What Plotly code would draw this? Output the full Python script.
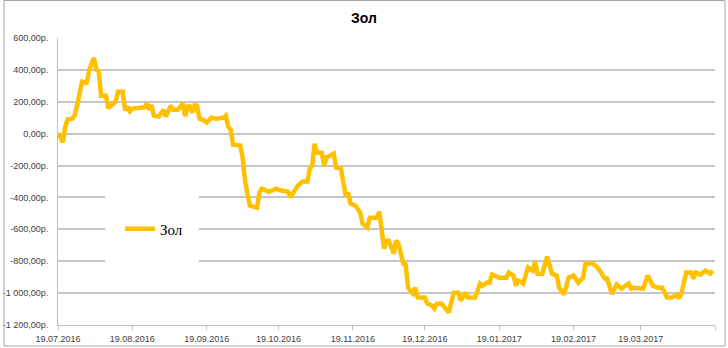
import plotly.graph_objects as go

# ---- data ----
dates = [
    "2016-07-19", "2016-07-20", "2016-07-21", "2016-07-22", "2016-07-23", "2016-07-25", "2016-07-26",
    "2016-07-27", "2016-07-28", "2016-07-29", "2016-07-31", "2016-08-01", "2016-08-03", "2016-08-04",
    "2016-08-05", "2016-08-06", "2016-08-08", "2016-08-09", "2016-08-11", "2016-08-12", "2016-08-13",
    "2016-08-15", "2016-08-16", "2016-08-17", "2016-08-18", "2016-08-19", "2016-08-22", "2016-08-24",
    "2016-08-25", "2016-08-26", "2016-08-27", "2016-08-28", "2016-08-30", "2016-09-01", "2016-09-02",
    "2016-09-04", "2016-09-05", "2016-09-07", "2016-09-09", "2016-09-10", "2016-09-11", "2016-09-12",
    "2016-09-13", "2016-09-14", "2016-09-15", "2016-09-16", "2016-09-18", "2016-09-19", "2016-09-21",
    "2016-09-23", "2016-09-26", "2016-09-27", "2016-09-28", "2016-09-29", "2016-09-30", "2016-10-03",
    "2016-10-04", "2016-10-05", "2016-10-07", "2016-10-09", "2016-10-10", "2016-10-11", "2016-10-12",
    "2016-10-15", "2016-10-18", "2016-10-20", "2016-10-23", "2016-10-24", "2016-10-27", "2016-10-29",
    "2016-10-31", "2016-11-01", "2016-11-02", "2016-11-03", "2016-11-04", "2016-11-06", "2016-11-07",
    "2016-11-08", "2016-11-11", "2016-11-12", "2016-11-14", "2016-11-15", "2016-11-16", "2016-11-17",
    "2016-11-18", "2016-11-20", "2016-11-22", "2016-11-23", "2016-11-25", "2016-11-26", "2016-11-29",
    "2016-11-30", "2016-12-01", "2016-12-02", "2016-12-03", "2016-12-04", "2016-12-06", "2016-12-07",
    "2016-12-08", "2016-12-10", "2016-12-11", "2016-12-12", "2016-12-14", "2016-12-15", "2016-12-16",
    "2016-12-19", "2016-12-20", "2016-12-22", "2016-12-23", "2016-12-24", "2016-12-26", "2016-12-29",
    "2016-12-31", "2017-01-02", "2017-01-03", "2017-01-05", "2017-01-06", "2017-01-09", "2017-01-11",
    "2017-01-12", "2017-01-14", "2017-01-15", "2017-01-16", "2017-01-19", "2017-01-22", "2017-01-23",
    "2017-01-25", "2017-01-26", "2017-01-27", "2017-01-29", "2017-01-31", "2017-02-02", "2017-02-03",
    "2017-02-04", "2017-02-06", "2017-02-08", "2017-02-10", "2017-02-12", "2017-02-13", "2017-02-15",
    "2017-02-17", "2017-02-19", "2017-02-21", "2017-02-23", "2017-02-24", "2017-02-27", "2017-03-01",
    "2017-03-02", "2017-03-04", "2017-03-05", "2017-03-07", "2017-03-09", "2017-03-11", "2017-03-14",
    "2017-03-15", "2017-03-16", "2017-03-20", "2017-03-22", "2017-03-24", "2017-03-26", "2017-03-28",
    "2017-03-30", "2017-04-01", "2017-04-03", "2017-04-04", "2017-04-05", "2017-04-07", "2017-04-09",
    "2017-04-10", "2017-04-11", "2017-04-13", "2017-04-15", "2017-04-17", "2017-04-18",
]
values = [
    0, -20, -55, 40, 90, 94, 115,
    200, 250, 326, 320, 400, 475, 400,
    390, 238, 238, 160, 190, 200, 263,
    263, 145, 170, 140, 157, 163, 165,
    188, 150, 180, 113, 107, 150, 107,
    175, 150, 150, 190, 110, 170, 170,
    132, 178, 175, 94, 82, 70, 100,
    94, 100, 113, 44, 25, -69, -75,
    -150, -295, -451, -464, -464, -370, -345,
    -365, -345, -357, -365, -400, -326, -300,
    -300, -220, -200, -63, -119, -119, -200,
    -150, -125, -213, -220, -307, -389, -370,
    -439, -451, -495, -564, -589, -527, -527,
    -489, -589, -721, -671, -671, -752, -671,
    -690, -815, -821, -966, -1003, -966, -1028,
    -1028, -1066, -1078, -1097, -1066, -1066, -1122,
    -997, -997, -1047, -997, -1028, -1028, -940,
    -953, -934, -934, -884, -903, -903, -871,
    -890, -953, -922, -940, -840, -859, -803,
    -878, -878, -771, -878, -890, -966, -1009,
    -903, -890, -934, -903, -815, -815, -840,
    -859, -909, -909, -1005, -945, -972, -940,
    -972, -966, -972, -890, -953, -966, -966,
    -1028, -1028, -1009, -1034, -1003, -871, -871,
    -909, -871, -884, -859, -878, -859,
]
series_name = "Зол"
chart_title = "Зол"

y_tick_values = [-1200, -1000, -800, -600, -400, -200, 0, 200, 400, 600]
y_tick_labels = ["-1 200,00р.", "-1 000,00р.", "-800,00р.", "-600,00р.", "-400,00р.",
                 "-200,00р.", "0,00р.", "200,00р.", "400,00р.", "600,00р."]
x_tick_dates = ["2016-07-19", "2016-08-19", "2016-09-19", "2016-10-19", "2016-11-19",
                "2016-12-19", "2017-01-19", "2017-02-19", "2017-03-19", "2017-04-19"]
x_tick_labels = ["19.07.2016", "19.08.2016", "19.09.2016", "19.10.2016", "19.11.2016",
                 "19.12.2016", "19.01.2017", "19.02.2017", "19.03.2017", ""]

fig = go.Figure()
fig.add_trace(go.Scatter(
    x=dates, y=values, mode="lines", name=series_name,
    line=dict(color="#FFC000", width=4.5),
    showlegend=True,
))

# plot area in pixels: left 58, right 715, top 38, bottom 325
PL, PR, PT, PB = 58, 715, 38, 325
def px_x(p):
    return (p - PL) / (PR - PL)
def px_y(p):
    return (PB - p) / (PB - PT)

fig.update_layout(
    width=728, height=348,
    margin=dict(l=PL, r=728 - PR, t=PT, b=348 - PB, autoexpand=False),
    paper_bgcolor="white", plot_bgcolor="white",
    title=dict(text="<b>" + chart_title + "</b>", x=0.5, xref="container", xanchor="center",
               y=1 - 18 / 348, yref="container", yanchor="middle",
               font=dict(family="Liberation Sans", size=14, color="#000000")),
    font=dict(family="Liberation Sans", size=9, color="#404040"),
    showlegend=True,
    legend=dict(x=px_x(120), y=px_y(229), xanchor="left", yanchor="middle",
                bgcolor="rgba(255,255,255,0)", borderwidth=0, itemwidth=30,
                font=dict(family="Liberation Serif", size=15, color="#000000")),
    shapes=[
        dict(type="rect", xref="paper", yref="paper",
             x0=px_x(105), x1=px_x(199), y0=px_y(268), y1=px_y(190),
             fillcolor="white", line=dict(width=0), layer="above"),
        dict(type="rect", xref="paper", yref="paper",
             x0=px_x(4), x1=px_x(725), y0=px_y(346), y1=px_y(0.5),
             fillcolor="rgba(0,0,0,0)", line=dict(color="#A6A6A6", width=1), layer="above"),
    ],
)
fig.update_xaxes(
    type="date", range=["2016-07-19", "2017-04-19"], automargin=False,
    tickmode="array", tickvals=x_tick_dates, ticktext=x_tick_labels,
    ticks="outside", ticklen=4, tickcolor="#BFBFBF",
    showline=True, linecolor="#BFBFBF", linewidth=1,
    showgrid=False, zeroline=False, ticklabelstandoff=1,
    tickfont=dict(family="Liberation Sans", size=9, color="#404040"),
)
fig.update_yaxes(
    range=[-1200, 600], automargin=False,
    tickmode="array", tickvals=y_tick_values, ticktext=y_tick_labels,
    showline=True, linecolor="#BFBFBF", linewidth=1,
    showgrid=True, gridcolor="#C6C6C6", gridwidth=1.5,
    zeroline=False, ticks="", ticklabelstandoff=7,
    tickfont=dict(family="Liberation Sans", size=9, color="#404040"),
)

fig.write_html("out.html")
